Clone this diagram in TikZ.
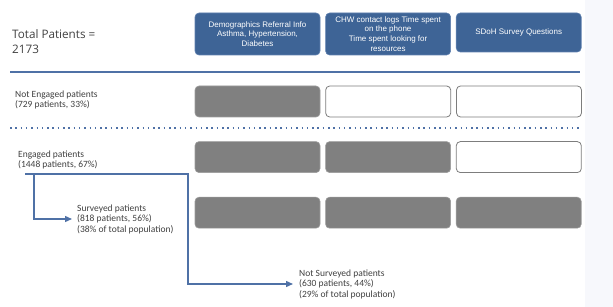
\documentclass[tikz,border=0pt]{standalone}
\usepackage{fontspec}
\setmainfont{Carlito}
\newfontfamily\titlefont{Open Sans}
\newfontfamily\hdrfont{Liberation Sans}
\usetikzlibrary{arrows.meta, positioning}
\definecolor{mytext}{RGB}{64,64,64}
\definecolor{myblue}{RGB}{62,100,150}
\definecolor{mybluedge}{RGB}{95,128,175}
\definecolor{myline}{RGB}{79,113,166}
\definecolor{mygray}{RGB}{128,128,128}
\definecolor{mygrayedge}{RGB}{155,155,155}
\definecolor{myedge}{RGB}{125,125,125}
\definecolor{mystrip}{RGB}{247,248,252}
\tikzset{
  hdrbox/.style={rectangle, draw=mybluedge, fill=myblue, text=white,
    minimum width=125pt, minimum height=42pt, inner sep=0pt, align=center,
    font=\hdrfont\fontsize{8}{9.8}\selectfont, rounded corners=4pt, line width=0.6pt},
  graybox/.style={rectangle, draw=mygrayedge, fill=mygray,
    minimum width=125pt, minimum height=31pt, inner sep=0pt,
    rounded corners=4pt, line width=0.6pt},
  openbox/.style={rectangle, draw=myedge, fill=white,
    minimum width=125pt, minimum height=31pt, inner sep=0pt,
    rounded corners=4pt, line width=0.8pt},
  rowlabel/.style={anchor=west, inner sep=0pt, align=left, text=mytext,
    font=\fontsize{9.5}{10.5}\selectfont},
  flow/.style={-{Triangle[length=7pt, width=6pt]}, line width=1.4pt, color=myline},
  rule/.style={line width=2.2pt, color=myline},
  dotrule/.style={line width=1.5pt, color=myline, dash pattern=on 1.5pt off 3.8pt}
}
\begin{document}
\begin{tikzpicture}[x=1pt, y=-1pt]
  \useasboundingbox (0,0) rectangle (613,307);
  \fill[mystrip] (585,0) rectangle (613,307);

  % Header
  \node[anchor=west, inner sep=0pt, align=left, text=mytext,
    font=\titlefont\fontsize{11.7}{15}\selectfont] (total) at (12,41.5) {Total Patients =\\2173};
  \node[hdrbox] (h_demo) at (257.5,34) {Demographics Referral Info\\Asthma, Hypertension,\\Diabetes};
  \node[hdrbox, right=5pt of h_demo] (h_chw) {CHW contact logs Time spent\\on the phone\\Time spent looking for\\resources};
  \node[hdrbox, minimum height=39pt, anchor=north west] (h_sdoh) at ([xshift=5pt]h_chw.north east) {SDoH Survey Questions};
  \draw[rule] (10,72) -- (580,72);

  % Not engaged
  \node[rowlabel] (noteng) at (15,100) {Not Engaged patients\\(729 patients, 33\%)};
  \node[graybox] (r1c1) at (257.5,101.5) {};
  \node[openbox, right=5pt of r1c1] (r1c2) {};
  \node[openbox, right=5pt of r1c2] (r1c3) {};
  \draw[dotrule] (10,128) -- (580,128);

  % Engaged
  \node[rowlabel] (eng) at (18,160) {Engaged patients\\(1448 patients, 67\%)};
  \node[graybox, below=24pt of r1c1] (r2c1) {};
  \node[graybox, right=5pt of r2c1] (r2c2) {};
  \node[openbox, right=5pt of r2c2] (r2c3) {};

  % Surveyed
  \node[rowlabel] (surv) at (77,219) {Surveyed patients\\(818 patients, 56\%)\\(38\% of total population)};
  \node[graybox, below=24pt of r2c1] (r3c1) {};
  \node[graybox, right=5pt of r3c1] (r3c2) {};
  \node[graybox, right=5pt of r3c2] (r3c3) {};

  % Not surveyed
  \node[rowlabel] (nsurv) at (299,284) {Not Surveyed patients\\(630 patients, 44\%)\\(29\% of total population)};

  % Split of engaged patients
  \coordinate (split) at (25,174);
  \coordinate (branch) at (34,174);
  \coordinate (elbow) at (188,174);
  \draw[flow] (split) -- (elbow) |- ([xshift=-6pt]nsurv.west);
  \draw[flow] (branch) |- ([xshift=-5pt]surv.west);
\end{tikzpicture}
\end{document}
